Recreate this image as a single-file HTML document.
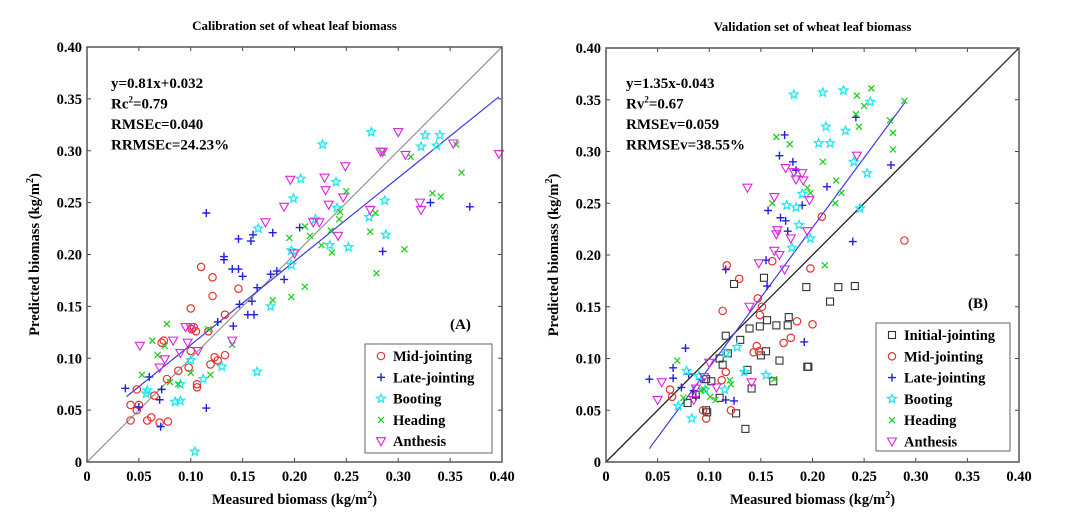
<!DOCTYPE html>
<html><head><meta charset="utf-8">
<style>
html,body{margin:0;padding:0;background:#fff;}
svg{display:block;font-family:"Liberation Serif",serif;font-weight:bold;}
</style></head>
<body>
<svg id="s" width="1082" height="512" xmlns="http://www.w3.org/2000/svg"></svg>
<script>
const NS="http://www.w3.org/2000/svg";
const S=document.getElementById('s');
let out='';
function panel(P){
  const {x0,x1,y0,y1}=P;
  const X=v=>x0+(x1-x0)*v/0.4, Y=v=>y1-(y1-y0)*v/0.4;
  let h='';
  h+=`<text x="${(x0+x1)/2}" y="${y0-17}" font-size="13" text-anchor="middle">${P.title}</text>`;
  // ticks
  const labs=['0','0.05','0.10','0.15','0.20','0.25','0.30','0.35','0.40'];
  for(let i=0;i<=8;i++){
    const v=i*0.05;
    h+=`<line x1="${X(v)}" y1="${y1}" x2="${X(v)}" y2="${y1-4}" stroke="#444"/><line x1="${X(v)}" y1="${y0}" x2="${X(v)}" y2="${y0+4}" stroke="#444"/>`;
    h+=`<line x1="${x0}" y1="${Y(v)}" x2="${x0+4}" y2="${Y(v)}" stroke="#444"/><line x1="${x1}" y1="${Y(v)}" x2="${x1-4}" y2="${Y(v)}" stroke="#444"/>`;
    h+=`<text x="${X(v)}" y="${y1+19}" font-size="14.5" text-anchor="middle">${labs[i]}</text>`;
    h+=`<text x="${x0-5}" y="${Y(v)+5}" font-size="14.5" text-anchor="end">${labs[i]}</text>`;
  }
  h+=`<text x="${(x0+x1)/2}" y="${y1+42}" font-size="14.5" text-anchor="middle">Measured biomass (kg/m<tspan font-size="10" dy="-6">2</tspan><tspan dy="6">)</tspan></text>`;
  h+=`<text transform="translate(${x0-48},${(y0+y1)/2}) rotate(-90)" font-size="14.5" text-anchor="middle">Predicted biomass (kg/m<tspan font-size="10" dy="-6">2</tspan><tspan dy="6">)</tspan></text>`;
  // lines
  h+=`<line x1="${X(0)}" y1="${Y(0)}" x2="${X(0.4)}" y2="${Y(0.4)}" stroke="${P.diag}" stroke-width="1.3"/>`;
  h+=`<line x1="${X(P.fit[0])}" y1="${Y(P.fit[1])}" x2="${X(P.fit[2])}" y2="${Y(P.fit[3])}" stroke="#3a3ae8" stroke-width="1.2"/>`;
  // series
  for(const s of P.series){
    for(let i=0;i<s.d.length;i+=2) h+=mark(s.t,X(s.d[i]),Y(s.d[i+1]));
  }
  h+=`<rect x="${x0}" y="${y0}" width="${x1-x0}" height="${y1-y0}" fill="none" stroke="#555" stroke-width="1.5"/>`;
  // text
  P.txt.forEach((t,i)=>{h+=`<text x="${P.tx}" y="${P.ty+i*20.5}" font-size="15">${t}</text>`;});
  h+=`<text x="${P.lab[0]}" y="${P.lab[1]}" font-size="15">${P.lab[2]}</text>`;
  // legend
  const L=P.leg;
  h+=`<rect x="${L.x}" y="${L.y}" width="${L.w}" height="${L.h}" fill="#fff" stroke="#666"/>`;
  P.series.forEach((s,i)=>{
    const yy=L.y+12+i*21.3;
    h+=mark(s.t,L.x+16,yy);
    h+=`<text x="${L.x+28}" y="${yy+5}" font-size="14.5">${s.n}</text>`;
  });
  return h;
}
const C={o:'#e83030',p:'#2020e0',st:'#20e8f0',x:'#20d020',v:'#e020e0',sq:'#333'};
function mark(t,x,y){
  if(t==='o')return `<circle cx="${x}" cy="${y}" r="3.7" fill="none" stroke="${C.o}" stroke-width="1.2"/>`;
  if(t==='sq')return `<rect x="${x-3.5}" y="${y-3.5}" width="7" height="7" fill="none" stroke="${C.sq}" stroke-width="1.1"/>`;
  if(t==='p')return `<path d="M${x-4} ${y}H${x+4}M${x} ${y-4}V${y+4}" stroke="${C.p}" stroke-width="1.4"/>`;
  if(t==='x')return `<path d="M${x-3} ${y-3}L${x+3} ${y+3}M${x+3} ${y-3}L${x-3} ${y+3}" stroke="${C.x}" stroke-width="1.3"/>`;
  if(t==='v')return `<path d="M${x-4.5} ${y-3.5}H${x+4.5}L${x} ${y+4.5}Z" fill="none" stroke="${C.v}" stroke-width="1.1"/>`;
  if(t==='st'){let p='';for(let k=0;k<10;k++){const r=k%2?2:4.5,a=-Math.PI/2+k*Math.PI/5;p+=(k?'L':'M')+(x+r*Math.cos(a)).toFixed(1)+' '+(y+r*Math.sin(a)).toFixed(1);}return `<path d="${p}Z" fill="none" stroke="${C.st}" stroke-width="1.3"/>`;}
}
const left={x0:87,x1:502,y0:47,y1:462,title:'Calibration set of wheat leaf biomass',diag:'#999',fit:[0.038,0.063,0.397,0.352],
tx:111,ty:88,txt:['y=0.81x+0.032','Rc<tspan font-size="9" dy="-6">2</tspan><tspan dy="6">=0.79</tspan>','RMSEc=0.040','RRMSEc=24.23%'],lab:[450,329,'(A)'],
leg:{x:365,y:344,w:127,h:109},
series:[
{t:'o',n:'Mid-jointing',d:[0.042,0.04,0.042,0.055,0.048,0.07,0.048,0.05,0.05,0.055,0.058,0.04,0.062,0.043,0.065,0.064,0.07,0.038,0.072,0.115,0.074,0.117,0.077,0.08,0.078,0.039,0.088,0.088,0.098,0.091,0.1,0.148,0.1,0.107,0.101,0.128,0.103,0.13,0.105,0.126,0.106,0.075,0.106,0.072,0.11,0.188,0.117,0.126,0.119,0.094,0.121,0.178,0.121,0.16,0.123,0.101,0.126,0.098,0.133,0.142,0.133,0.103,0.146,0.167]},
{t:'p',n:'Late-jointing',d:[0.037,0.071,0.05,0.053,0.06,0.082,0.07,0.06,0.071,0.034,0.072,0.07,0.115,0.24,0.115,0.052,0.126,0.135,0.132,0.195,0.132,0.198,0.14,0.186,0.141,0.131,0.146,0.215,0.146,0.186,0.147,0.152,0.15,0.179,0.155,0.142,0.158,0.213,0.159,0.155,0.16,0.219,0.161,0.142,0.164,0.168,0.177,0.181,0.179,0.221,0.183,0.184,0.19,0.176,0.205,0.226,0.285,0.203,0.331,0.25,0.369,0.246]},
{t:'st',n:'Booting',d:[0.057,0.066,0.058,0.069,0.085,0.058,0.09,0.059,0.09,0.075,0.1,0.098,0.104,0.01,0.112,0.08,0.13,0.092,0.164,0.087,0.165,0.225,0.177,0.15,0.197,0.19,0.197,0.204,0.199,0.254,0.206,0.273,0.22,0.234,0.227,0.306,0.234,0.209,0.24,0.27,0.241,0.245,0.252,0.207,0.272,0.236,0.274,0.318,0.287,0.252,0.288,0.219,0.322,0.304,0.326,0.315,0.337,0.305,0.34,0.315]},
{t:'x',n:'Heading',d:[0.053,0.084,0.063,0.117,0.068,0.103,0.075,0.112,0.077,0.133,0.08,0.077,0.088,0.075,0.1,0.086,0.117,0.128,0.119,0.084,0.14,0.113,0.179,0.156,0.195,0.216,0.197,0.159,0.21,0.169,0.21,0.227,0.215,0.218,0.226,0.209,0.235,0.223,0.236,0.202,0.243,0.234,0.244,0.241,0.25,0.261,0.273,0.222,0.278,0.24,0.279,0.182,0.285,0.298,0.306,0.205,0.312,0.294,0.333,0.259,0.341,0.256,0.356,0.306,0.361,0.279]},
{t:'v',n:'Anthesis',d:[0.051,0.112,0.07,0.091,0.075,0.099,0.083,0.117,0.09,0.105,0.095,0.13,0.097,0.115,0.1,0.13,0.107,0.107,0.14,0.117,0.172,0.231,0.19,0.246,0.196,0.272,0.2,0.201,0.218,0.231,0.224,0.231,0.229,0.274,0.23,0.262,0.233,0.248,0.242,0.218,0.247,0.255,0.249,0.285,0.273,0.243,0.283,0.299,0.285,0.299,0.3,0.318,0.307,0.296,0.321,0.25,0.322,0.243,0.353,0.307,0.397,0.297]}
]};
const right={x0:606,x1:1019,y0:48,y1:462,title:'Validation set of wheat leaf biomass',diag:'#222',fit:[0.042,0.013,0.29,0.348],
tx:626,ty:88,txt:['y=1.35x-0.043','Rv<tspan font-size="9" dy="-6">2</tspan><tspan dy="6">=0.67</tspan>','RMSEv=0.059','RRMSEv=38.55%'],lab:[968,308,'(B)'],
leg:{x:876,y:323,w:134,h:128},
series:[
{t:'sq',n:'Initial-jointing',d:[0.079,0.057,0.087,0.065,0.097,0.08,0.097,0.05,0.098,0.048,0.102,0.078,0.11,0.1,0.11,0.062,0.113,0.094,0.116,0.122,0.118,0.105,0.124,0.172,0.126,0.047,0.13,0.118,0.135,0.032,0.137,0.089,0.139,0.129,0.141,0.071,0.149,0.131,0.15,0.103,0.153,0.178,0.155,0.107,0.156,0.137,0.162,0.078,0.165,0.132,0.168,0.098,0.176,0.132,0.177,0.14,0.194,0.169,0.195,0.092,0.196,0.092,0.217,0.155,0.225,0.169,0.241,0.17]},
{t:'o',n:'Mid-jointing',d:[0.062,0.07,0.064,0.063,0.094,0.05,0.097,0.042,0.112,0.079,0.113,0.146,0.116,0.087,0.117,0.19,0.121,0.05,0.129,0.177,0.143,0.106,0.146,0.112,0.147,0.158,0.148,0.107,0.149,0.142,0.151,0.15,0.161,0.194,0.172,0.115,0.179,0.12,0.185,0.136,0.198,0.187,0.2,0.133,0.209,0.237,0.289,0.214]},
{t:'p',n:'Late-jointing',d:[0.042,0.08,0.065,0.091,0.065,0.081,0.073,0.072,0.077,0.11,0.08,0.085,0.085,0.069,0.087,0.063,0.092,0.08,0.116,0.186,0.116,0.06,0.124,0.059,0.155,0.195,0.156,0.17,0.157,0.243,0.168,0.296,0.169,0.236,0.173,0.316,0.174,0.233,0.176,0.223,0.181,0.29,0.184,0.282,0.19,0.248,0.192,0.116,0.214,0.266,0.239,0.213,0.242,0.333,0.276,0.287]},
{t:'st',n:'Booting',d:[0.07,0.054,0.078,0.088,0.083,0.042,0.09,0.083,0.096,0.07,0.115,0.07,0.116,0.105,0.127,0.111,0.134,0.087,0.155,0.084,0.18,0.207,0.182,0.355,0.184,0.246,0.175,0.248,0.187,0.229,0.19,0.259,0.198,0.216,0.206,0.308,0.21,0.357,0.213,0.324,0.217,0.308,0.23,0.359,0.232,0.32,0.24,0.29,0.246,0.245,0.253,0.279,0.256,0.348]},
{t:'x',n:'Heading',d:[0.069,0.098,0.075,0.062,0.092,0.069,0.095,0.07,0.101,0.063,0.106,0.06,0.12,0.079,0.121,0.075,0.163,0.08,0.161,0.25,0.165,0.314,0.178,0.307,0.195,0.265,0.198,0.26,0.21,0.29,0.212,0.19,0.222,0.25,0.223,0.272,0.228,0.26,0.242,0.336,0.243,0.354,0.245,0.324,0.25,0.344,0.257,0.361,0.275,0.33,0.278,0.302,0.278,0.318,0.289,0.349]},
{t:'v',n:'Anthesis',d:[0.05,0.06,0.054,0.077,0.085,0.06,0.087,0.071,0.095,0.082,0.1,0.096,0.107,0.072,0.137,0.265,0.139,0.15,0.141,0.077,0.148,0.192,0.163,0.256,0.163,0.204,0.165,0.22,0.166,0.224,0.168,0.2,0.173,0.186,0.174,0.284,0.179,0.216,0.182,0.28,0.184,0.273,0.19,0.279,0.191,0.272,0.195,0.223,0.197,0.253,0.243,0.296]}
]};
S.innerHTML=panel(left)+panel(right);
</script>
</body></html>
